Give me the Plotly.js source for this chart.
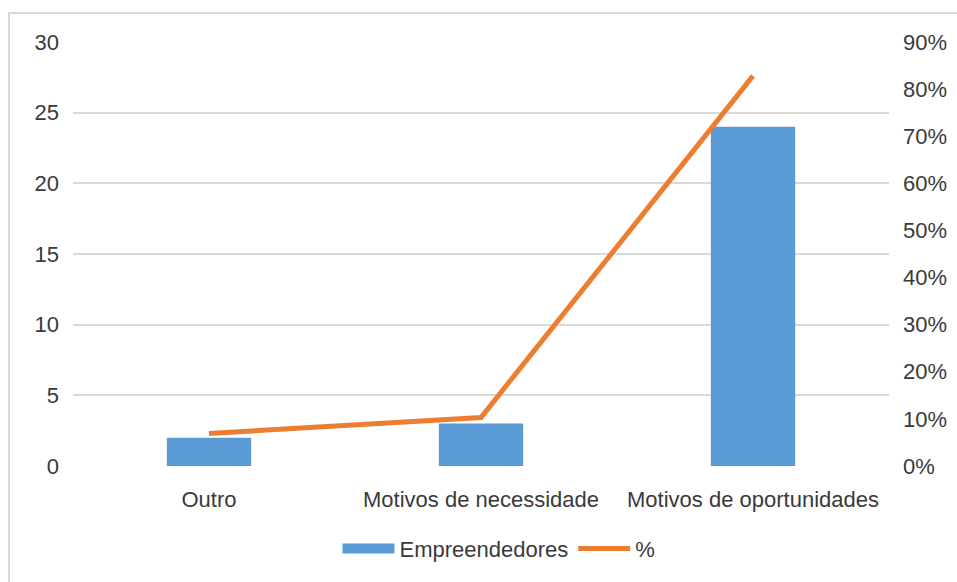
<!DOCTYPE html>
<html>
<head>
<meta charset="utf-8">
<script src="https://cdn.plot.ly/plotly-3.0.1.min.js"></script>
<style>
  html, body { margin: 0; padding: 0; background: #ffffff; overflow: hidden; }
  #frame { position: absolute; left: 8px; top: 12px; width: 1100px; height: 700px; border: 2px solid #d9d9d9; box-sizing: border-box; }
  #chart { position: absolute; left: 0; top: 0; width: 957px; height: 582px; }
</style>
</head>
<body>
<div id="frame"></div>
<div id="chart"></div>
<script>
const categories = ["Outro", "Motivos de necessidade", "Motivos de oportunidades"];
const empreendedores = [2, 3, 24];
const percentages = [0.069, 0.103, 0.828];
const leftTicks = [0, 5, 10, 15, 20, 25, 30];
const rightTicks = [0, 0.1, 0.2, 0.3, 0.4, 0.5, 0.6, 0.7, 0.8, 0.9];
const rightTickLabels = ["0%", "10%", "20%", "30%", "40%", "50%", "60%", "70%", "80%", "90%"];

const font = { family: "Liberation Sans, Arial, sans-serif", size: 22, color: "#3a3a3a" };

const traces = [
  {
    type: "bar",
    name: "Empreendedores",
    x: categories,
    y: empreendedores,
    marker: { color: "#5B9BD5" },
    yaxis: "y",
    showlegend: false
  },
  {
    // legend-only entry so the swatch is a wide band like the original
    type: "scatter",
    mode: "lines",
    name: "Empreendedores",
    x: [null],
    y: [null],
    line: { color: "#5B9BD5", width: 11 },
    yaxis: "y",
    showlegend: true,
    legendrank: 1
  },
  {
    type: "scatter",
    mode: "lines",
    name: "%",
    x: categories,
    y: percentages,
    line: { color: "#ED7D31", width: 5 },
    yaxis: "y2",
    legendrank: 2
  }
];

const layout = {
  width: 957,
  height: 582,
  paper_bgcolor: "rgba(0,0,0,0)",
  plot_bgcolor: "rgba(0,0,0,0)",
  font: font,
  margin: { l: 73, r: 68, t: 42, b: 116 },
  bargap: 0.69,
  showlegend: true,
  legend: {
    orientation: "h",
    x: 0.522,
    xanchor: "center",
    y: -0.195,
    yanchor: "middle",
    font: font,
    itemwidth: 52,
    traceorder: "normal"
  },
  xaxis: {
    type: "category",
    showgrid: false,
    zeroline: false,
    showline: false,
    ticks: "",
    ticklabelstandoff: 18,
    tickfont: font
  },
  yaxis: {
    range: [0, 30],
    tickvals: leftTicks,
    showgrid: true,
    gridcolor: "#d9d9d9",
    gridwidth: 2,
    zeroline: false,
    showline: false,
    ticks: "",
    ticklabelstandoff: 13,
    tickfont: font
  },
  yaxis2: {
    overlaying: "y",
    side: "right",
    range: [0, 0.9],
    tickvals: rightTicks,
    ticktext: rightTickLabels,
    showgrid: false,
    zeroline: false,
    showline: false,
    ticks: "",
    ticklabelstandoff: 13,
    tickfont: font
  }
};

Plotly.newPlot("chart", traces, layout, { displayModeBar: false, staticPlot: true });
</script>
</body>
</html>
